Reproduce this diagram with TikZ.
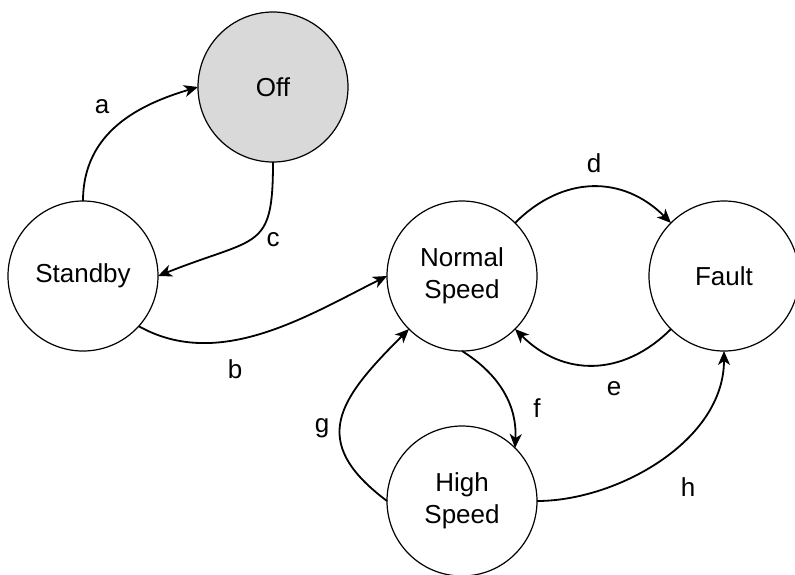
\documentclass[tikz,border=0pt]{standalone}
\usepackage{fontspec}
\setmainfont{Liberation Sans}
\usetikzlibrary{arrows.meta}
\definecolor{offgray}{HTML}{D9D9D9}
\tikzset{
  state/.style={circle, draw=black, line width=1.2pt, minimum size=150pt, inner sep=0pt, outer sep=0pt, align=center, font=\fontsize{26}{32}\selectfont},
  trans/.style={line width=1.8pt, -{Stealth[length=14pt,width=12pt,inset=4pt]}},
  lbl/.style={inner sep=0pt, font=\fontsize{26}{32}\selectfont}
}
\begin{document}
\begin{tikzpicture}[x=1pt,y=-1pt]
\useasboundingbox (0,0) rectangle (795,574);
\node[state, fill=offgray] (off) at (273,87) {Off};
\node[state] (stb) at (83,276) {Standby};
\node[state] (nrm) at (462,276) {Normal\\Speed};
\node[state] (flt) at (724,276) {Fault};
\node[state] (hsp) at (462,501) {High\\Speed};

\draw[trans] (stb.north) .. controls +(0,-70) and +(-57,17) .. (off.west);
\draw[trans] (off.south) .. controls +(0,90) and +(100,-40) .. (stb.east);
\draw[trans] (stb.-42) .. controls +(80,45) and +(-80,40) .. (nrm.west);
\draw[trans] (nrm.45) .. controls +(48,-48) and +(-48,-48) .. (flt.135);
\draw[trans] (flt.225) .. controls +(-48,48) and +(48,48) .. (nrm.-45);
\draw[trans] (nrm.south) .. controls +(40,25) and +(2,-40) .. (hsp.45);
\draw[trans] (hsp.west) .. controls +(-80,-60) and +(-70,70) .. (nrm.225);
\draw[trans] (hsp.east) .. controls +(80,0) and +(0,90) .. (flt.south);

\node[lbl] (la) at (102,107) {a};
\node[lbl] (lb) at (235,369) {b};
\node[lbl] (lc) at (273,240) {c};
\node[lbl] (ld) at (594,163) {d};
\node[lbl] (le) at (614,389) {e};
\node[lbl] (lf) at (537,408) {f};
\node[lbl] (lg) at (322,428) {g};
\node[lbl] (lh) at (688,487) {h};
\end{tikzpicture}
\end{document}
